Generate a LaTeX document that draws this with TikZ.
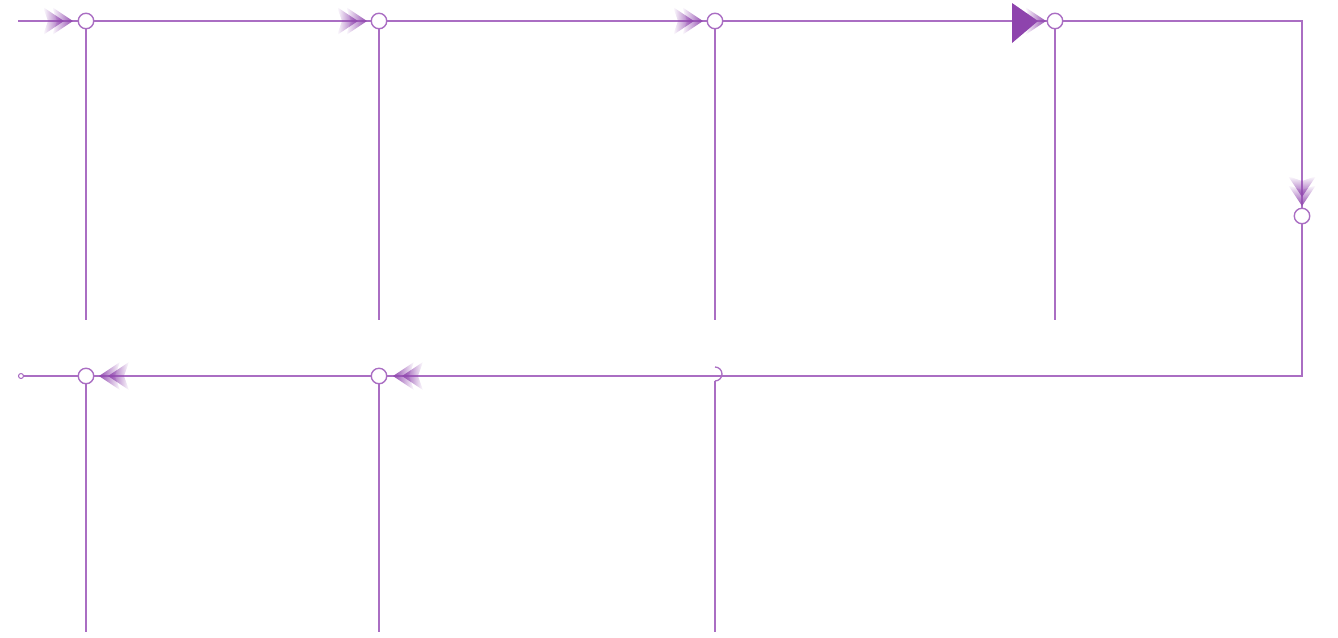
\documentclass[tikz,border=0pt]{standalone}
\usetikzlibrary{fadings}
\definecolor{pipe}{RGB}{170,110,195}
\definecolor{pipedark}{RGB}{142,68,173}
\tikzfading[name=chevfade, left color=transparent!100, right color=transparent!0]

\begin{document}
\begin{tikzpicture}[
    x=0.02cm, y=-0.02cm,
    pipeline/.style={draw=pipe, line width=0.75pt},
    junction/.style={circle, draw=pipe, fill=white, line width=0.8pt, inner sep=0pt, minimum size=0.31cm},
    endpt/.style={circle, draw=pipe, fill=white, line width=0.6pt, inner sep=0pt, minimum size=0.1cm},
    pics/chev/.style={code={
      \fill[pipedark!85!pipe, path fading=chevfade, fading angle=#1] (-9,0) -- (-30,-14) -- (-25,0) -- (-30,14) -- cycle;
      \fill[pipedark!85!pipe, path fading=chevfade, fading angle=#1] (0,0) -- (-21,-14) -- (-16,0) -- (-21,14) -- cycle;
    }},
  ]
  \useasboundingbox (0,0) rectangle (1338,637);

  % upper run
  \coordinate (start) at (18,21);
  \node[junction] (j1) at (86,21) {};
  \node[junction] (j2) at (379,21) {};
  \node[junction] (j3) at (715,21) {};
  \node[junction] (j4) at (1055,21) {};
  \coordinate (c1) at (1302,21);
  \node[junction] (j5) at (1302,216) {};
  \coordinate (c2) at (1302,376);

  % lower run
  \node[junction] (j6) at (379,376) {};
  \node[junction] (j7) at (86,376) {};
  \node[endpt] (e) at (21,376) {};
  \coordinate (h3) at (715,381);

  % branch ends
  \coordinate (t1) at (86,320);
  \coordinate (t2) at (379,320);
  \coordinate (t3) at (715,320);
  \coordinate (t4) at (1055,320);
  \coordinate (b1) at (86,632);
  \coordinate (b2) at (379,632);
  \coordinate (b3) at (715,632);

  \draw[pipeline] (start) -- (j1);
  \draw[pipeline] (j1) -- (j2);
  \draw[pipeline] (j2) -- (j3);
  \draw[pipeline] (j3) -- (j4);
  \draw[pipeline] (j4) -- (c1) -- (j5);
  \draw[pipeline] (j5) -- (c2) -- (j6);
  \draw[pipeline] (j6) -- (j7);
  \draw[pipeline] (j7) -- (e);

  \draw[pipeline] (j1) -- (t1);
  \draw[pipeline] (j2) -- (t2);
  \draw[pipeline] (j3) -- (t3);
  \draw[pipeline] (j4) -- (t4);
  \draw[pipeline] (j7) -- (b1);
  \draw[pipeline] (j6) -- (b2);
  \draw[pipeline] (h3) arc[start angle=90, end angle=-90, radius=7];
  \draw[pipeline, line width=1.1pt] (h3) -- (b3);

  % flow marks
  \pic at (73,21) {chev=0};
  \pic at (367,21) {chev=0};
  \pic at (703,21) {chev=0};
  \fill[pipedark] (1012,3) -- (1038,21) -- (1012,43) -- cycle;
  \fill[pipedark!85!pipe, path fading=chevfade] (1046,21) -- (1025,7) -- (1030,21) -- (1025,35) -- cycle;
  \pic[rotate=-90] at (1302,206) {chev=-90};
  \pic[rotate=180] at (99,376) {chev=180};
  \pic[rotate=180] at (393,376) {chev=180};
\end{tikzpicture}
\end{document}
